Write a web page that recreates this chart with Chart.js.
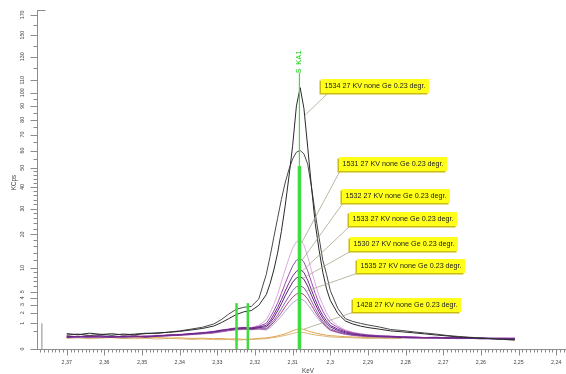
<!DOCTYPE html>
<html><head><meta charset="utf-8">
<script src="https://cdn.jsdelivr.net/npm/chart.js@4/dist/chart.umd.min.js"></script>
<style>html,body{margin:0;padding:0;background:#fff;overflow:hidden}#wrap{width:566px;height:374px}</style>
</head><body><div id="wrap"><canvas id="c" width="566" height="374"></canvas></div>
<script>
// ---------------- DATA ----------------
const keV = [2.370,2.367,2.364,2.361,2.358,2.355,2.352,2.349,2.346,2.343,2.340,2.337,2.334,2.331,
  2.329,2.327,2.325,2.323,2.321,2.319,2.317,
  2.316,2.315,2.314,2.313,2.312,2.311,2.310,2.309,2.308,2.307,2.306,2.305,2.304,2.303,2.302,2.301,2.300,
  2.298,2.296,2.294,2.292,2.290,
  2.287,2.284,2.281,2.278,2.275,2.272,2.269,2.266,2.263,2.260,2.257,2.254,2.251];

const s1534 = [0.36,0.31,0.38,0.33,0.29,0.34,0.31,0.36,0.40,0.42,0.47,0.55,0.64,0.80,1.05,1.40,1.80,2.10,2.25,2.9,
  4.5,6.5,9.5,14,21,31,45,63,90,104,88,62,40,24,15,9,5.5,3.6,1.9,1.2,0.95,0.8,0.7,0.6,0.5,0.45,0.4,0.35,0.3,0.26,0.22,0.2,0.17,0.16,0.14,0.13];
const sBlack2 = [0.30,0.34,0.28,0.32,0.36,0.30,0.34,0.38,0.36,0.44,0.50,0.60,0.72,0.95,1.30,1.85,2.40,2.65,2.75,3.8,
  8.5,13,19,26,34,42,49,55,59,60,58,52,40,28,19,12,8.5,5.2,2.5,1.4,1.15,1.0,0.88,0.74,0.58,0.52,0.45,0.39,0.34,0.28,0.24,0.21,0.19,0.16,0.14,0.12];
const s1531 = [0.24,0.21,0.26,0.22,0.25,0.23,0.27,0.24,0.28,0.3,0.33,0.37,0.42,0.48,0.55,0.62,0.7,0.72,0.7,0.85,
  1.3,2.0,3.0,4.5,6.8,9.5,12.5,15.5,17.5,18.2,16.5,13,9.4,6.5,4.3,3.0,2.0,1.35,0.8,0.55,0.43,0.36,0.31,0.27,0.25,0.23,0.22,0.2,0.21,0.19,0.2,0.18,0.19,0.17,0.18,0.16];
const s1532 = [0.22,0.25,0.21,0.24,0.2,0.25,0.22,0.26,0.25,0.29,0.31,0.35,0.4,0.45,0.52,0.58,0.65,0.68,0.66,0.78,
  1.0,1.5,2.2,3.2,4.7,6.5,8.5,10.5,12.0,12.5,11.5,9.3,6.8,4.7,3.2,2.2,1.5,1.05,0.7,0.5,0.4,0.34,0.3,0.27,0.25,0.23,0.22,0.2,0.21,0.19,0.2,0.18,0.19,0.17,0.18,0.17];
const s1533 = [0.2,0.23,0.26,0.21,0.23,0.22,0.25,0.23,0.27,0.28,0.32,0.34,0.38,0.44,0.5,0.6,0.66,0.64,0.68,0.74,
  0.85,1.2,1.8,2.6,3.7,5.1,6.6,8.1,9.2,9.6,8.9,7.2,5.3,3.7,2.5,1.7,1.2,0.85,0.6,0.45,0.36,0.31,0.28,0.25,0.24,0.22,0.21,0.2,0.19,0.2,0.18,0.19,0.17,0.18,0.17,0.18];
const s1530 = [0.25,0.22,0.24,0.27,0.22,0.24,0.26,0.22,0.26,0.3,0.3,0.36,0.39,0.46,0.54,0.57,0.63,0.7,0.62,0.7,
  0.75,1.05,1.5,2.2,3.1,4.3,5.5,6.8,7.7,8.0,7.4,6.0,4.4,3.1,2.1,1.45,1.0,0.75,0.52,0.4,0.33,0.29,0.26,0.24,0.23,0.21,0.2,0.19,0.2,0.18,0.19,0.17,0.18,0.16,0.17,0.16];
const s1535 = [0.21,0.24,0.2,0.23,0.25,0.21,0.23,0.25,0.24,0.27,0.3,0.33,0.37,0.42,0.48,0.55,0.6,0.63,0.6,0.66,
  0.65,0.9,1.25,1.75,2.45,3.3,4.2,5.2,5.9,6.1,5.7,4.7,3.5,2.5,1.7,1.2,0.85,0.62,0.45,0.36,0.3,0.27,0.25,0.23,0.22,0.2,0.19,0.2,0.18,0.19,0.17,0.18,0.16,0.17,0.16,0.15];
const sCrimson = [0.26,0.23,0.27,0.24,0.21,0.26,0.24,0.21,0.25,0.27,0.29,0.32,0.36,0.4,0.46,0.52,0.58,0.6,0.58,0.62,
  0.6,0.8,1.1,1.5,2.0,2.7,3.4,4.1,4.6,4.8,4.5,3.8,2.9,2.1,1.5,1.05,0.75,0.55,0.42,0.34,0.29,0.26,0.24,0.22,0.21,0.2,0.19,0.18,0.19,0.17,0.18,0.17,0.16,0.17,0.15,0.16];
const sLavender = [0.23,0.2,0.22,0.25,0.23,0.2,0.24,0.22,0.24,0.26,0.28,0.31,0.34,0.38,0.44,0.5,0.55,0.58,0.56,0.6,
  0.55,0.7,0.95,1.25,1.65,2.15,2.7,3.25,3.65,3.8,3.6,3.0,2.35,1.75,1.3,0.95,0.7,0.52,0.4,0.32,0.28,0.25,0.23,0.22,0.2,0.19,0.18,0.19,0.17,0.18,0.16,0.17,0.16,0.15,0.16,0.15];
const s1428 = [0.2,0.23,0.19,0.22,0.2,0.18,0.21,0.19,0.2,0.18,0.19,0.17,0.18,0.16,0.17,0.15,0.16,0.14,0.15,0.17,
  0.19,0.21,0.23,0.26,0.3,0.35,0.42,0.5,0.58,0.63,0.58,0.5,0.44,0.39,0.35,0.32,0.29,0.27,0.25,0.23,0.22,0.21,0.2,0.19,0.2,0.18];
const sTan = [0.17,0.19,0.16,0.18,0.2,0.17,0.16,0.18,0.15,0.17,0.16,0.14,0.15,0.14,0.13,0.14,0.12,0.13,0.14,0.15,
  0.16,0.18,0.2,0.22,0.25,0.28,0.32,0.37,0.41,0.43,0.41,0.37,0.33,0.3,0.28,0.26,0.24,0.22,0.21,0.2,0.19,0.18,0.17,0.18,0.16,0.17];

// line markers (keV position, height in KCps)
const ka1KeV = 2.3082;
const ka1ThickTop = 51;
const ka1ThinTop = 116;
const markerKeV = [2.3249, 2.3219];
const markerTop = [3.2, 3.2];
const grayMarkerKeV = [2.3766];
const grayMarkerTop = [1.0];

// axis ticks
const yTickValues = [0,1,2,3,4,5,10,20,30,40,50,60,70,80,90,100,110,130,150,170];
const yTickLabels = ['0','1','2','3','4','5','10','20','30','40','50','60','70','80','90','100','110','130','150','170'];
const yMinorTicks = [0.5,6,7,8,9,12,14,16,18,22,24,26,28,32,34,36,38,42,44,46,48,55,65,75,85,95,120,140,160];
const xTickValues = [2.37,2.36,2.35,2.34,2.33,2.32,2.31,2.30,2.29,2.28,2.27,2.26,2.25,2.24];
const xTickLabels = ['2,37','2,36','2,35','2,34','2,33','2,32','2,31','2,3','2,29','2,28','2,27','2,26','2,25','2,24'];

// annotations
const annLabels = ['1534 27 KV none Ge 0.23 degr.','1531 27 KV none Ge 0.23 degr.','1532 27 KV none Ge 0.23 degr.',
  '1533 27 KV none Ge 0.23 degr.','1530 27 KV none Ge 0.23 degr.','1535 27 KV none Ge 0.23 degr.','1428 27 KV none Ge 0.23 degr.'];
const annKeV = [2.3068, 2.3076, 2.3075, 2.3075, 2.3073, 2.3064, 2.3070];
const annVal = [83, 17.2, 12.0, 9.2, 7.6, 5.1, 0.6];

// ---------------- STYLE / LAYOUT ----------------
const annBoxXY = [[321,79],[339,157],[342,189],[349,212],[350,237],[357,259],[353,298]];
const annLeadDX = [7,1,1,1,1,1,1];

class SqrtScale extends Chart.LinearScale {
  static id = 'sqrt';
  static defaults = {};
  getPixelForValue(v) {
    const a = Math.sqrt(Math.max(this.min, 0)), b = Math.sqrt(this.max);
    return this.getPixelForDecimal((Math.sqrt(Math.max(v, 0)) - a) / (b - a));
  }
  getValueForPixel(p) {
    const a = Math.sqrt(Math.max(this.min, 0)), b = Math.sqrt(this.max);
    const s = a + this.getDecimalForPixel(p) * (b - a);
    return s * s;
  }
}
Chart.register(SqrtScale);

const pts = arr => arr.map((y, i) => ({x: keV[i], y}));
const vline = (x, top) => [{x, y: 0}, {x, y: top}];
const curve = (label, arr, color) => ({label, data: pts(arr), borderColor: color, borderWidth: 1, pointRadius: 0, tension: 0, fill: false});
const GREEN = '#3edc3e';

const datasets = [
  {label: 'KA1 thick', data: vline(ka1KeV, ka1ThickTop), borderColor: GREEN, borderWidth: 3.5, pointRadius: 0},
  {label: 'KA1 thin', data: vline(ka1KeV, ka1ThinTop), borderColor: GREEN, borderWidth: 1.2, pointRadius: 0},
  {label: 'marker 1', data: vline(markerKeV[0], markerTop[0]), borderColor: GREEN, borderWidth: 2.5, pointRadius: 0},
  {label: 'marker 2', data: vline(markerKeV[1], markerTop[1]), borderColor: GREEN, borderWidth: 2.5, pointRadius: 0},
  {label: 'gray marker', data: vline(grayMarkerKeV[0], grayMarkerTop[0]), borderColor: '#8a8a8a', borderWidth: 1, pointRadius: 0},
  curve('1534', s1534, '#2a2a2a'),
  curve('black 2', sBlack2, '#4a4a4a'),
  curve('1533', s1533, '#74288e'),
  curve('1530', s1530, '#5a1e7c'),
  curve('1532', s1532, '#9a4cb4'),
  curve('1535', s1535, '#8a5cb8'),
  curve('crimson', sCrimson, '#b8447a'),
  curve('lavender', sLavender, '#a9a6dc'),
  curve('1531', s1531, '#dcaadc'),
  curve('1428', s1428, '#e0a452'),
  curve('tan', sTan, '#d9b77a'),
];

const axesPlugin = {
  id: 'axesPlugin',
  afterDraw(chart) {
    const ctx = chart.ctx, x = chart.scales.x, y = chart.scales.y, ca = chart.chartArea;
    ctx.save();
    ctx.strokeStyle = '#8c8c8c';
    ctx.lineWidth = 1;
    const ax = Math.round(ca.left) + 0.5, ay = Math.round(ca.bottom) + 0.5;
    ctx.beginPath();
    ctx.moveTo(ax, ca.top); ctx.lineTo(ax, ay);
    ctx.moveTo(ax, ca.top + 0.5); ctx.lineTo(ax + 8, ca.top + 0.5);
    ctx.stroke();
    ctx.beginPath();
    yTickValues.forEach(v => { const py = Math.round(y.getPixelForValue(v)) + 0.5; ctx.moveTo(ax - 7, py); ctx.lineTo(ax, py); });
    yMinorTicks.forEach(v => { const py = Math.round(y.getPixelForValue(v)) + 0.5; ctx.moveTo(ax - 4, py); ctx.lineTo(ax, py); });
    ctx.stroke();
    ctx.fillStyle = '#444';
    ctx.font = '5.3px Arial, "Liberation Sans", sans-serif';
    ctx.textAlign = 'center'; ctx.textBaseline = 'middle';
    yTickValues.forEach((v, i) => {
      const py = y.getPixelForValue(v);
      ctx.save(); ctx.translate(23, py); ctx.rotate(-Math.PI / 2); ctx.fillText(yTickLabels[i], 0, 0); ctx.restore();
    });
    ctx.font = '6.3px Arial, "Liberation Sans", sans-serif';
    ctx.save(); ctx.translate(14, (ca.top + ca.bottom) / 2 + 3); ctx.rotate(-Math.PI / 2); ctx.fillText('KCps', 0, 0); ctx.restore();
    ctx.beginPath();
    ctx.moveTo(ax - 6, ay); ctx.lineTo(ca.right, ay);
    ctx.stroke();
    ctx.beginPath();
    for (let k = 2377; k >= 2238; k--) {
      const v = k / 1000;
      const px = Math.round(x.getPixelForValue(v)) + 0.5;
      const major = k % 10 === 0;
      ctx.moveTo(px, ay); ctx.lineTo(px, ay + (major ? 6 : 3));
    }
    ctx.stroke();
    ctx.font = '5.3px Arial, "Liberation Sans", sans-serif';
    ctx.textBaseline = 'top';
    xTickValues.forEach((v, i) => ctx.fillText(xTickLabels[i], x.getPixelForValue(v), ay + 10));
    ctx.font = '6.3px Arial, "Liberation Sans", sans-serif';
    ctx.fillText('KeV', 308, 368);
    ctx.fillStyle = GREEN;
    ctx.font = 'bold 7px Arial, "Liberation Sans", sans-serif';
    ctx.save(); ctx.translate(x.getPixelForValue(ka1KeV), 62); ctx.rotate(-Math.PI / 2);
    ctx.textAlign = 'center'; ctx.textBaseline = 'middle'; ctx.fillText('S  KA1', 0, 0); ctx.restore();
    ctx.font = '7.2px Arial, "Liberation Sans", sans-serif';
    annLabels.forEach((t, i) => {
      const tx = x.getPixelForValue(annKeV[i]), ty = y.getPixelForValue(annVal[i]);
      const [bx, by] = annBoxXY[i];
      const w = 108, h = 14;
      ctx.strokeStyle = '#aaa48a'; ctx.lineWidth = 0.8;
      ctx.beginPath(); ctx.moveTo(bx + annLeadDX[i], by + h); ctx.lineTo(tx, ty); ctx.stroke();
      ctx.fillStyle = '#c9bb10';
      ctx.fillRect(bx - 1.5, by + 1.5, w, h);
      ctx.fillStyle = '#ffff1a';
      ctx.fillRect(bx, by, w, h);
      ctx.fillStyle = '#1a1a1a';
      ctx.textAlign = 'left'; ctx.textBaseline = 'middle';
      ctx.fillText(t, bx + 3.5, by + h / 2 + 0.5);
    });
    ctx.restore();
  }
};

new Chart(document.getElementById('c'), {
  type: 'line',
  data: {datasets},
  options: {
    responsive: false, animation: false, devicePixelRatio: 1,
    layout: {padding: {left: 37, top: 10, right: 0, bottom: 25}},
    plugins: {legend: {display: false}, tooltip: {enabled: false}},
    elements: {line: {borderCapStyle: 'butt'}},
    scales: {
      x: {type: 'linear', min: 2.2374, max: 2.3779, reverse: true, display: false},
      y: {type: 'sqrt', min: 0, max: 175, display: false}
    }
  },
  plugins: [axesPlugin]
});
</script></body></html>
